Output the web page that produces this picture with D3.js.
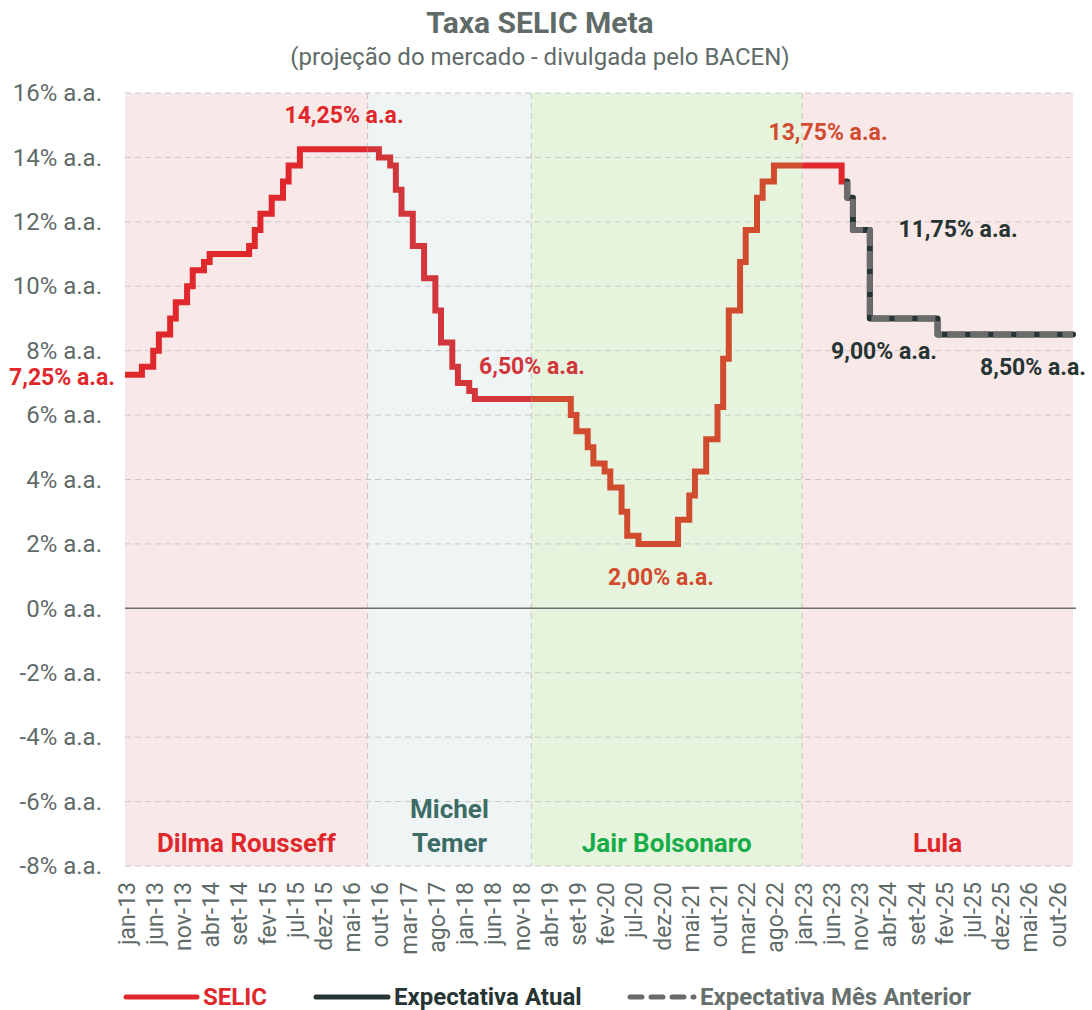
<!DOCTYPE html>
<html lang="pt-br">
<head>
	<meta charset="UTF-8">
	<title>Taxa SELIC Meta</title>
	<script src="https://cdn.jsdelivr.net/npm/d3@7"></script>
	<style>
		body { margin: 0; background: #fff; }
		svg text { font-family: Roboto, "Noto Sans", sans-serif; }
	</style>
</head>
<body>
	<svg id="grafico" width="1092" height="1010"></svg>
	<script>
	// eixo x: um ponto por mes, jan-13 .. dez-26 (168 meses), rotulo a cada 5 meses
	var rotulosX = ["jan-13","jun-13","nov-13","abr-14","set-14","fev-15","jul-15","dez-15","mai-16",
		"out-16","mar-17","ago-17","jan-18","jun-18","nov-18","abr-19","set-19","fev-20","jul-20",
		"dez-20","mai-21","out-21","mar-22","ago-22","jan-23","jun-23","nov-23","abr-24","set-24",
		"fev-25","jul-25","dez-25","mai-26","out-26"];
	var totalMeses = 168;

	// SELIC meta mensal, jan-13 .. ago-23
	var selic = [
		7.25,7.25,7.25,7.50,7.50,8.00,8.50,8.50,9.00,9.50,9.50,10.00,          // 2013
		10.50,10.50,10.75,11.00,11.00,11.00,11.00,11.00,11.00,11.00,11.25,11.75, // 2014
		12.25,12.25,12.75,12.75,13.25,13.75,13.75,14.25,14.25,14.25,14.25,14.25, // 2015
		14.25,14.25,14.25,14.25,14.25,14.25,14.25,14.25,14.25,14.00,14.00,13.75, // 2016
		13.00,12.25,12.25,11.25,11.25,10.25,10.25,9.25,8.25,8.25,7.50,7.00,      // 2017
		7.00,6.75,6.50,6.50,6.50,6.50,6.50,6.50,6.50,6.50,6.50,6.50,             // 2018
		6.50,6.50,6.50,6.50,6.50,6.50,6.50,6.00,5.50,5.50,5.00,4.50,             // 2019
		4.50,4.25,3.75,3.75,3.00,2.25,2.25,2.00,2.00,2.00,2.00,2.00,             // 2020
		2.00,2.00,2.75,2.75,3.50,4.25,4.25,5.25,5.25,6.25,7.75,9.25,             // 2021
		9.25,10.75,11.75,11.75,12.75,13.25,13.25,13.75,13.75,13.75,13.75,13.75,  // 2022
		13.75,13.75,13.75,13.75,13.75,13.75,13.75,13.25                         // 2023
	];

	// expectativas (Focus), set-23 .. dez-26
	var expAtual = [
		12.75,11.75,11.75,11.75,
		9.00,9.00,9.00,9.00,9.00,9.00,9.00,9.00,9.00,9.00,9.00,9.00,
		8.50,8.50,8.50,8.50,8.50,8.50,8.50,8.50,8.50,8.50,8.50,8.50,
		8.50,8.50,8.50,8.50,8.50,8.50,8.50,8.50,8.50,8.50,8.50,8.50
	];
	var expAnterior = [
		12.75,11.75,11.75,11.75,
		9.00,9.00,9.00,9.00,9.00,9.00,9.00,9.00,9.00,9.00,9.00,9.00,
		8.50,8.50,8.50,8.50,8.50,8.50,8.50,8.50,8.50,8.50,8.50,8.50,
		8.50,8.50,8.50,8.50,8.50,8.50,8.50,8.50,8.50,8.50,8.50,8.50
	];

	// governos: mes inicial e final (indice)
	var governos = ["Dilma Rousseff", "Michel|Temer", "Jair Bolsonaro", "Lula"];
	var govInicio = [0, 43, 72, 120];
	var govFim = [43, 72, 120, 168];
	var govFundo = ["#f9e8e8", "#eff5f5", "#e7f4dd", "#f9e8e8"];
	var govTexto = ["#e0282c", "#3d6b66", "#16ac48", "#e0282c"];
	var govLinha = ["#e0282c", "#d2363b", "#d14b2f", "#e0282c"];

	var yTicks = [-8,-6,-4,-2,0,2,4,6,8,10,12,14,16];

	var svg = d3.select("#grafico");
	var x = d3.scaleLinear().domain([0, totalMeses]).range([125, 1073]);
	var y = d3.scaleLinear().domain([-8, 16]).range([866, 93]);
	var cinza = "#5f6b68";

	// titulo
	svg.append("text").attr("x", 540).attr("y", 33).attr("text-anchor", "middle")
		.attr("font-size", 30).attr("font-weight", "bold").attr("fill", cinza).text("Taxa SELIC Meta");
	svg.append("text").attr("x", 540).attr("y", 65).attr("text-anchor", "middle")
		.attr("font-size", 24).attr("fill", cinza).text("(projeção do mercado - divulgada pelo BACEN)");

	// fundos dos governos
	governos.forEach(function(g, i){
		svg.append("rect")
			.attr("x", x(govInicio[i])).attr("y", y(16))
			.attr("width", x(govFim[i]) - x(govInicio[i]))
			.attr("height", y(-8) - y(16))
			.attr("fill", govFundo[i]);
	});

	// grade horizontal
	svg.append("g").selectAll("line").data(yTicks.filter(function(d){ return d !== 0; })).join("line")
		.attr("x1", x(0)).attr("x2", x(totalMeses))
		.attr("y1", function(d){ return y(d); }).attr("y2", function(d){ return y(d); })
		.attr("stroke", "#c8c8c8").attr("stroke-width", 1).attr("stroke-dasharray", "6,4");

	// divisorias dos governos
	svg.append("g").selectAll("line").data(govInicio.slice(1)).join("line")
		.attr("x1", function(d){ return x(d); }).attr("x2", function(d){ return x(d); })
		.attr("y1", y(16)).attr("y2", y(-8))
		.attr("stroke", "#c4c4c4").attr("stroke-width", 1).attr("stroke-dasharray", "6,4");

	// linha do zero
	svg.append("line").attr("x1", x(0)).attr("x2", x(totalMeses) + 3)
		.attr("y1", y(0)).attr("y2", y(0)).attr("stroke", "#6e6e6e").attr("stroke-width", 1.5);

	// eixo y
	var eixoY = d3.axisLeft(y).tickValues(yTicks).tickSize(0).tickPadding(0)
		.tickFormat(function(d){ return d + "% a.a."; });
	svg.append("g").attr("transform", "translate(102,0)").call(eixoY)
		.call(function(g){ g.select(".domain").remove(); })
		.selectAll("text").attr("font-size", 24).attr("fill", cinza).attr("font-family", null);

	// eixo x
	var eixoX = d3.axisBottom(x).tickValues(rotulosX.map(function(d, i){ return i * 5; }))
		.tickSize(0).tickFormat(function(d){ return rotulosX[d / 5]; });
	svg.append("g").attr("transform", "translate(1,872)").call(eixoX)
		.call(function(g){ g.select(".domain").remove(); })
		.selectAll("text")
		.attr("font-size", 23).attr("fill", cinza).attr("font-family", null)
		.attr("text-anchor", "end").attr("transform", "rotate(-90)")
		.attr("x", -10).attr("y", 0).attr("dy", "0.35em");

	// nomes dos governos
	governos.forEach(function(g, i){
		var partes = g.split("|");
		var cx = (x(govInicio[i]) + x(govFim[i])) / 2;
		partes.forEach(function(p, k){
			svg.append("text").attr("x", cx).attr("y", 852 - (partes.length - 1 - k) * 34)
				.attr("text-anchor", "middle").attr("font-size", 26).attr("font-weight", "bold")
				.attr("fill", govTexto[i]).text(p);
		});
	});

	// degraus: cada mes vai de x(i) a x(i+1)
	function degraus(inicio, valores, anterior){
		var pts = [];
		if (anterior != null) pts.push([inicio, anterior]);
		valores.forEach(function(v, k){
			pts.push([inicio + k, v]);
			pts.push([inicio + k + 1, v]);
		});
		return pts;
	}
	var linha = d3.line().x(function(d){ return x(d[0]); }).y(function(d){ return y(d[1]); });

	var defs = svg.append("defs");
	governos.forEach(function(g, i){
		defs.append("clipPath").attr("id", "clip" + i).append("rect")
			.attr("x", x(govInicio[i])).attr("y", 0)
			.attr("width", x(govFim[i]) - x(govInicio[i])).attr("height", 1010);
	});

	var ptsSelic = degraus(0, selic, null);
	governos.forEach(function(g, i){
		svg.append("path").datum(ptsSelic).attr("d", linha)
			.attr("clip-path", "url(#clip" + i + ")")
			.attr("fill", "none").attr("stroke", govLinha[i]).attr("stroke-width", 6)
			.attr("stroke-linejoin", "miter");
	});

	var ini = selic.length;
	var ultimo = selic[selic.length - 1];
	svg.append("path").datum(degraus(ini, expAtual, ultimo)).attr("d", linha)
		.attr("fill", "none").attr("stroke", "#263433").attr("stroke-width", 6)
		.attr("stroke-linecap", "round").attr("stroke-linejoin", "round");
	svg.append("path").datum(degraus(ini, expAnterior, ultimo)).attr("d", linha)
		.attr("fill", "none").attr("stroke", "#6b6b6b").attr("stroke-width", 6)
		.attr("stroke-dasharray", "18,5").attr("stroke-linejoin", "round");

	// rotulos de valores
	var rotulos = [
		{t: "7,25% a.a.", x: 115, y: 377, a: "end", c: govLinha[0]},
		{t: "14,25% a.a.", x: 344, y: 115, a: "middle", c: govLinha[0]},
		{t: "6,50% a.a.", x: 532, y: 366, a: "middle", c: govLinha[1]},
		{t: "2,00% a.a.", x: 661, y: 577, a: "middle", c: govLinha[2]},
		{t: "13,75% a.a.", x: 828, y: 132, a: "middle", c: govLinha[2]},
		{t: "11,75% a.a.", x: 958, y: 229, a: "middle", c: "#263433"},
		{t: "9,00% a.a.", x: 884, y: 351, a: "middle", c: "#263433"},
		{t: "8,50% a.a.", x: 1033, y: 367, a: "middle", c: "#263433"}
	];
	svg.append("g").selectAll("text").data(rotulos).join("text")
		.attr("x", function(d){ return d.x; }).attr("y", function(d){ return d.y; })
		.attr("dy", "0.35em").attr("text-anchor", function(d){ return d.a; })
		.attr("font-size", 23).attr("font-weight", "bold")
		.attr("fill", function(d){ return d.c; })
		.text(function(d){ return d.t; });

	// legenda
	var legenda = [
		{t: "SELIC", x1: 126, x2: 197, c: "#e0282c", tc: "#e0282c", dash: null},
		{t: "Expectativa Atual", x1: 316, x2: 388, c: "#263433", tc: "#263433", dash: null},
		{t: "Expectativa Mês Anterior", x1: 630, x2: 694, c: "#6b6b6b", tc: "#68706e", dash: "12,9"}
	];
	var lg = svg.append("g").selectAll("g").data(legenda).join("g");
	lg.append("line").attr("x1", function(d){ return d.x1; }).attr("x2", function(d){ return d.x2; })
		.attr("y1", 997).attr("y2", 997)
		.attr("stroke", function(d){ return d.c; }).attr("stroke-width", 5)
		.attr("stroke-linecap", "round").attr("stroke-dasharray", function(d){ return d.dash; });
	lg.append("text").attr("x", function(d){ return d.x2 + 6; }).attr("y", 997).attr("dy", "0.35em")
		.attr("font-size", 24).attr("font-weight", "bold")
		.attr("fill", function(d){ return d.tc; }).text(function(d){ return d.t; });
	</script>
</body>
</html>
